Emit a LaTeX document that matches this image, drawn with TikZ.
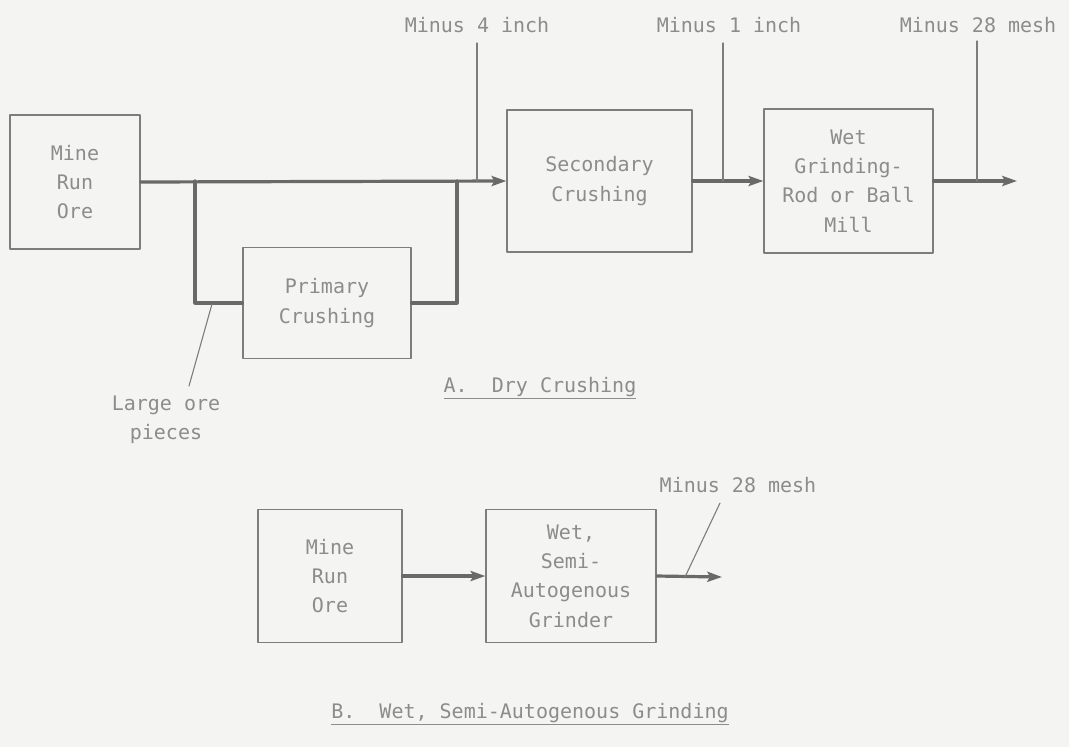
\documentclass[tikz,border=0pt]{standalone}
\usepackage{fontspec}
\setmainfont{DejaVu Sans Mono}
\usepackage{tikz}
\usetikzlibrary{arrows.meta}
\newlength\unitpx
\setlength\unitpx{0.75pt}
\definecolor{paper}{RGB}{244,244,242}
\definecolor{inkbox}{RGB}{125,125,125}
\definecolor{inkflow}{RGB}{105,105,105}
\definecolor{inktext}{RGB}{140,140,140}

\begin{document}
\begin{tikzpicture}[x=1\unitpx,y=-1\unitpx,line cap=round,line join=round,
    box/.style={draw=inkbox,line width=1.3\unitpx,align=center,inner sep=0pt,text=inktext},
    flow/.style={draw=inkflow,line width=3.2\unitpx},
    lead/.style={draw=inkbox,line width=1.1\unitpx},
    lbl/.style={text=inktext,inner sep=0pt,align=center},
    >={Stealth[length=11pt,width=7.5pt,inset=2pt]}]
        \fill[paper] (0,0) rectangle (1069,747);
        \useasboundingbox (0,0) rectangle (1069,747);
        \fontsize{15}{22}\selectfont

        % A. dry crushing
        \node[box,minimum width=130\unitpx,minimum height=134\unitpx] (mineA) at (75,182) {Mine\\Run\\Ore};
        \node[box,minimum width=168\unitpx,minimum height=111\unitpx] (primary) at (327,303) {Primary\\Crushing};
        \node[box,minimum width=185\unitpx,minimum height=142\unitpx] (secondary) at (599.5,181) {Secondary\\Crushing};
        \node[box,minimum width=169\unitpx,minimum height=144\unitpx] (wetA) at (848.5,181) {Wet\\Grinding-\\Rod or Ball\\Mill};

        \coordinate (splitL) at (195,181);
        \coordinate (splitR) at (457,181);
        \coordinate (outA) at (1017,181);

        \draw[flow,->] (mineA.east) -- (secondary.west);
        \draw[flow] (splitL) |- (primary.west);
        \draw[flow] (primary.east) -| (splitR);
        \draw[flow,->] (secondary.east) -- (wetA.west);
        \draw[flow,->] (wetA.east) -- (outA);

        \node[lbl] (size4) at (477,25) {Minus 4 inch};
        \node[lbl] (size1) at (729,25) {Minus 1 inch};
        \node[lbl] (size28) at (978,25) {Minus 28 mesh};
        \draw[lead] (477,43) -- (477,181);
        \draw[lead] (723,43) -- (723,181);
        \draw[lead] (977,41) -- (977,181);

        \node[lbl] (large) at (166,420) {Large ore\\pieces};
        \draw[lead] (212,304) -- (189,386);

        \node[lbl] (capA) at (540,388) {\underline{A.\ \ Dry Crushing}};

        % B. wet, semi-autogenous grinding
        \node[box,minimum width=144\unitpx,minimum height=133\unitpx] (mineB) at (330,576) {Mine\\Run\\Ore};
        \node[box,minimum width=170\unitpx,minimum height=133\unitpx] (wetB) at (571,576) {Wet,\\Semi-\\Autogenous\\Grinder};
        \coordinate (outB) at (722,577);

        \draw[flow,->] (mineB.east) -- (wetB.west);
        \draw[flow,->] (wetB.east) -- (outB);

        \node[lbl] (sizeB) at (738,485) {Minus 28 mesh};
        \draw[lead] (720,503) -- (685,577);

        \node[lbl] (capB) at (530,714) {\underline{B.\ \ Wet, Semi-Autogenous Grinding}};
    \end{tikzpicture}
\end{document}
